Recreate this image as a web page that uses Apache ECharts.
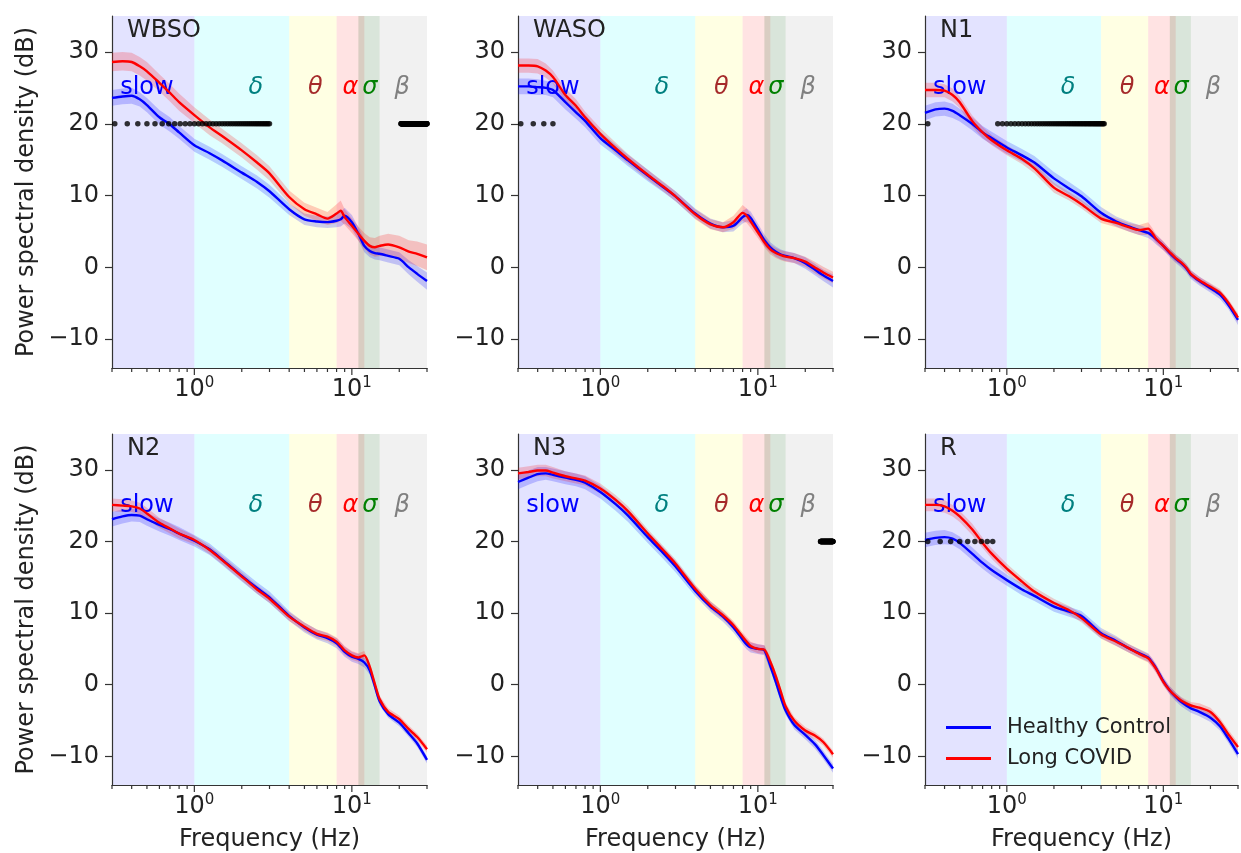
<!DOCTYPE html>
<html><head><meta charset="utf-8">
<script src="https://cdn.jsdelivr.net/npm/echarts@6/dist/echarts.min.js"></script>
<style>html,body{margin:0;padding:0;background:#fff}#c{width:1241px;height:853px}</style>
</head><body><div id="c"></div>
<script>
// ---------------- data ----------------
const FREQS = [0.3,0.35,0.4,0.45,0.5,0.6,0.7,0.8,1,1.25,1.5,2,2.5,3,4,5,6,7,8,8.5,9,10,11,12,13,14,15,17,20,23,26,30];
const STAGES = ['WBSO','WASO','N1','N2','N3','R'];
const GROUPS = ['Healthy Control','Long COVID'];

const wbsoHC = [23.6,23.8,23.9,23.4,22.6,20.9,19.9,18.8,17.0,15.9,14.9,13.2,11.9,10.6,8.1,6.7,6.4,6.3,6.5,6.7,7.2,6.3,4.7,3.0,2.3,2.0,1.9,1.6,1.2,0.0,-0.9,-1.9];
const wbsoLC = [28.6,28.7,28.6,28.0,27.3,25.7,24.3,23.0,21.2,19.5,18.3,16.3,14.6,13.1,9.8,8.1,7.4,6.8,7.5,7.9,7.0,5.8,4.7,3.7,3.0,2.8,3.0,3.2,2.8,2.2,1.9,1.4];
const wasoHC = [25.2,25.2,25.1,25.0,24.7,23.0,21.6,20.4,18.0,16.3,14.9,12.8,11.2,9.9,7.5,6.1,5.6,5.8,7.0,7.3,6.9,5.3,3.8,2.8,2.2,1.8,1.6,1.3,0.6,-0.3,-1.1,-1.9];
const wasoLC = [28.1,28.1,28.0,27.4,26.5,24.0,22.5,20.9,18.6,16.6,15.1,12.9,11.3,9.9,7.4,6.0,5.6,6.3,7.6,7.2,6.4,4.9,3.5,2.5,2.0,1.7,1.5,1.3,0.8,0.0,-0.7,-1.4];
const n1HC = [21.5,22.0,22.1,21.8,21.2,20.0,18.8,18.0,16.7,15.6,14.6,12.4,11.0,9.9,7.6,6.4,5.7,5.2,4.8,4.4,3.9,3.0,2.0,1.2,0.6,-0.1,-1.0,-1.9,-2.9,-3.8,-5.2,-7.3];
const n1LC = [24.7,24.7,24.6,24.0,23.0,20.4,18.8,17.7,16.3,15.1,13.8,11.1,9.9,8.8,6.8,6.2,5.6,5.2,5.4,4.8,4.0,3.0,2.1,1.3,0.7,0.0,-0.9,-1.8,-2.7,-3.5,-4.9,-7.0];
const n2HC = [23.1,23.5,23.7,23.6,23.1,22.3,21.7,21.1,20.1,18.9,17.5,15.2,13.5,12.2,9.6,8.0,7.0,6.5,5.8,5.2,4.6,3.9,3.6,3.1,2.0,-0.2,-2.3,-4.1,-5.3,-6.8,-8.2,-10.5];
const n2LC = [25.1,25.0,24.9,24.6,23.9,22.6,21.8,21.1,20.2,18.8,17.4,15.1,13.3,12.0,9.5,8.1,7.1,6.7,6.0,5.4,4.8,4.1,3.8,4.1,2.5,0.1,-2.0,-3.8,-4.8,-6.2,-7.3,-9.0];
const n3HC = [28.3,28.9,29.4,29.5,29.3,28.9,28.6,28.2,26.9,25.2,23.6,20.6,18.4,16.5,13.1,10.9,9.5,8.0,6.3,5.6,5.2,5.0,4.8,2.6,0.4,-1.8,-3.6,-5.6,-7.0,-8.3,-9.8,-11.7];
const n3LC = [29.5,29.7,29.9,29.9,29.6,29.1,28.8,28.5,27.4,25.8,24.2,21.1,18.8,16.9,13.4,11.1,9.7,8.3,6.7,6.0,5.4,5.0,4.9,3.2,1.2,-1.0,-3.0,-5.0,-6.4,-7.1,-8.0,-9.7];
const rHC = [20.2,20.5,20.6,20.4,19.8,18.3,17.0,16.0,14.6,13.3,12.4,10.9,10.2,9.6,7.2,6.1,5.1,4.4,3.8,3.1,2.3,0.5,-0.8,-1.7,-2.4,-2.9,-3.3,-3.8,-4.6,-5.8,-7.5,-9.7];
const rLC = [25.1,25.1,24.9,24.3,23.5,21.7,19.8,18.3,16.2,14.4,13.0,11.4,10.4,9.3,7.0,6.0,5.1,4.3,3.7,3.0,2.2,0.4,-0.8,-1.6,-2.2,-2.6,-2.9,-3.2,-3.8,-5.2,-6.9,-8.7];

// confidence half-widths (dB)
const wbsoHCci = [1.1,1.1,1.1,1.0,1.0,1.0,1.0,0.9,0.9,0.9,0.9,0.9,0.9,0.9,0.8,0.8,0.8,0.8,0.9,1.0,1.1,1.0,0.9,0.9,0.9,0.9,0.9,0.9,0.9,1.0,1.1,1.2];
const wbsoLCci = [1.3,1.3,1.3,1.3,1.3,1.2,1.2,1.2,1.1,1.1,1.0,1.0,1.0,1.0,0.9,0.9,0.9,0.9,1.3,1.4,1.1,1.0,1.0,1.1,1.2,1.3,1.4,1.5,1.6,1.6,1.7,1.8];
const wasoHCci = [1.1,1.1,1.1,1.0,1.0,1.0,0.9,0.9,0.9,0.8,0.8,0.8,0.7,0.7,0.7,0.7,0.7,0.8,0.9,0.9,0.9,0.8,0.8,0.7,0.7,0.7,0.7,0.7,0.8,0.8,0.8,0.9];
const wasoLCci = [1.0,1.0,1.0,1.0,0.9,0.9,0.9,0.8,0.8,0.8,0.7,0.7,0.7,0.7,0.7,0.7,0.7,0.9,1.1,1.0,0.9,0.8,0.7,0.7,0.7,0.7,0.7,0.7,0.7,0.8,0.8,0.8];
const n1HCci = [1.0,1.0,1.0,1.0,0.9,0.9,0.9,0.9,0.9,0.9,0.9,0.9,0.9,0.8,0.8,0.7,0.7,0.7,0.7,0.7,0.7,0.6,0.6,0.6,0.6,0.6,0.6,0.6,0.6,0.6,0.6,0.7];
const n1LCci = [1.0,1.0,0.9,0.9,0.8,0.8,0.8,0.7,0.7,0.7,0.7,0.7,0.6,0.6,0.6,0.6,0.6,0.7,0.9,0.7,0.6,0.6,0.5,0.5,0.5,0.5,0.5,0.5,0.5,0.5,0.5,0.6];
const n2HCci = [1.0,1.0,0.9,0.9,0.9,0.9,0.9,0.9,0.8,0.8,0.8,0.8,0.8,0.8,0.7,0.7,0.7,0.7,0.7,0.7,0.7,0.7,0.7,0.7,0.6,0.6,0.6,0.5,0.5,0.5,0.5,0.5];
const n2LCci = [0.9,0.9,0.8,0.8,0.8,0.7,0.7,0.7,0.6,0.6,0.6,0.6,0.6,0.6,0.6,0.6,0.6,0.6,0.6,0.6,0.6,0.6,0.6,0.6,0.5,0.5,0.5,0.5,0.5,0.5,0.5,0.5];
const n3HCci = [1.0,1.0,1.0,0.9,0.9,0.9,0.9,0.9,0.9,0.9,0.9,0.8,0.8,0.8,0.7,0.7,0.7,0.7,0.7,0.7,0.7,0.7,0.7,0.6,0.6,0.6,0.6,0.6,0.6,0.6,0.6,0.6];
const n3LCci = [0.8,0.8,0.8,0.8,0.8,0.7,0.7,0.7,0.7,0.7,0.7,0.6,0.6,0.6,0.6,0.6,0.6,0.6,0.6,0.6,0.6,0.6,0.6,0.6,0.5,0.5,0.5,0.5,0.5,0.5,0.5,0.5];
const rHCci = [1.0,1.0,1.0,0.9,0.9,0.9,0.8,0.8,0.8,0.8,0.7,0.7,0.7,0.7,0.7,0.7,0.6,0.6,0.6,0.6,0.6,0.6,0.6,0.6,0.6,0.6,0.6,0.6,0.6,0.6,0.6,0.6];
const rLCci = [0.9,0.9,0.9,0.8,0.8,0.8,0.7,0.7,0.7,0.6,0.6,0.6,0.6,0.6,0.6,0.6,0.6,0.6,0.6,0.6,0.6,0.5,0.5,0.5,0.5,0.5,0.5,0.6,0.6,0.6,0.6,0.6];

// significant frequency ranges (Hz), marked at the frequency-bin resolution
const FREQ_RES = 0.0625;
const SIG_LEVEL = 20;
const wbsoSig = [[0.3125, 3.0], [20.5, 30]];
const wasoSig = [[0.3125, 0.5]];
const n1Sig = [[0.3125, 0.3125], [0.875, 4.1875]];
const n2Sig = [];
const n3Sig = [[25.0, 30]];
const rSig = [[0.3125, 0.8125]];

// frequency bands
const BAND_NAMES = ['slow','δ','θ','α','σ','β'];
const BAND_LO = [0.3, 1, 4, 8, 11, 15];
const BAND_HI = [1, 4, 8, 12, 15, 30];
const BAND_LABEL_F = [0.5, 2.46, 5.86, 9.8, 13, 20.9];
const BAND_LABEL_DB = 25;

// axes
const Y_TICKS = [-10, 0, 10, 20, 30];
const X_MAJOR = [1, 10];
const X_MINOR = [0.3,0.4,0.5,0.6,0.7,0.8,0.9,2,3,4,5,6,7,8,9,20,30];

// ---------------- style / layout ----------------
const FONT = 'DejaVu Sans';
const TEXT = '#222';
const AXIS = '#333';
const Y_MIN = -14, Y_MAX = 35, X_MIN = 0.3, X_MAX = 30;
const COL_LEFT = [112, 518, 925], ROW_TOP = [16, 434], ROW_H = [352, 351], GRID_W = 315;
const BAND_FILL = ['rgba(0,0,255,0.11)','rgba(0,255,255,0.12)','rgba(255,255,0,0.11)','rgba(255,0,0,0.11)','rgba(0,80,10,0.15)','rgba(128,128,128,0.11)'];
const BAND_TEXT = ['#0000ff','#008080','#a52a2a','#ff0000','#008000','#808080'];
const LINE_COL = ['#0000ff', '#ff0000'];
const CI_FILL = ['rgba(0,0,255,0.2)', 'rgba(255,0,0,0.2)'];
const SMOOTH = 0.25;

const panelMeans = [[wbsoHC, wbsoLC],[wasoHC, wasoLC],[n1HC, n1LC],[n2HC, n2LC],[n3HC, n3LC],[rHC, rLC]];
const panelCI = [[wbsoHCci, wbsoLCci],[wasoHCci, wasoLCci],[n1HCci, n1LCci],[n2HCci, n2LCci],[n3HCci, n3LCci],[rHCci, rLCci]];
const panelSig = [wbsoSig, wasoSig, n1Sig, n2Sig, n3Sig, rSig];

function sigBins(ranges) {
  const out = [];
  ranges.forEach(([a, b]) => {
    for (let k = Math.round(a / FREQ_RES); k <= Math.round(b / FREQ_RES); k++) out.push([k * FREQ_RES, SIG_LEVEL]);
  });
  return out;
}

function fmtX(v) {
  const e = Math.log10(v), k = Math.round(e);
  if (Math.abs(e - k) < 1e-6 && X_MAJOR.some(m => Math.abs(m - Math.pow(10, k)) < 1e-9)) return '10{s|' + k + '}';
  return '';
}

const grids = [], xAxes = [], yAxes = [], series = [], titles = [];
const xTickData = X_MAJOR.map(f => [f, Y_MIN, 1]).concat(X_MINOR.map(f => [f, Y_MIN, 0]));

STAGES.forEach((stage, i) => {
  const c = i % 3, r = Math.floor(i / 3);
  grids.push({ left: COL_LEFT[c], top: ROW_TOP[r], width: GRID_W, height: ROW_H[r], containLabel: false });
  titles.push({ text: stage, left: COL_LEFT[c] + 15, top: ROW_TOP[r] + 3, padding: 0,
    textStyle: { fontSize: 24, fontWeight: 'normal', color: TEXT, fontFamily: FONT } });
  xAxes.push({
    gridIndex: i, type: 'log', logBase: 10, min: X_MIN, max: X_MAX,
    name: r === 1 ? 'Frequency (Hz)' : '', nameLocation: 'middle', nameGap: 43,
    nameTextStyle: { fontSize: 24, color: TEXT, fontFamily: FONT },
    axisLine: { show: true, onZero: false, lineStyle: { color: AXIS, width: 1.2 } },
    axisTick: { show: false }, minorTick: { show: false }, splitLine: { show: false },
    axisLabel: { margin: 8, formatter: fmtX, fontSize: 24, color: TEXT, fontFamily: FONT,
      rich: { s: { fontSize: 15, padding: [0, 0, 13, 0], color: TEXT, fontFamily: FONT } } }
  });
  yAxes.push({
    gridIndex: i, type: 'value', min: Y_MIN, max: Y_MAX,
    name: c === 0 ? 'Power spectral density (dB)' : '', nameLocation: 'middle', nameGap: 73,
    nameTextStyle: { fontSize: 24, color: TEXT, fontFamily: FONT },
    axisLine: { show: true, lineStyle: { color: AXIS, width: 1.2 } },
    axisTick: { show: true, length: 7, customValues: Y_TICKS, lineStyle: { color: AXIS, width: 1.2 } },
    axisLabel: { customValues: Y_TICKS, margin: 13, fontSize: 24, color: TEXT, fontFamily: FONT,
      formatter: v => (v < 0 ? '\u2212' + (-v) : String(v)) },
    splitLine: { show: false }
  });

  // band shading (behind everything)
  series.push({
    type: 'line', xAxisIndex: i, yAxisIndex: i, silent: true, z: 0, data: [],
    markArea: { silent: true, z: 0,
      data: BAND_LO.map((lo, k) => [{ xAxis: lo, itemStyle: { color: BAND_FILL[k], borderWidth: 0, opacity: 1 } }, { xAxis: BAND_HI[k] }]) }
  });
  // band labels
  series.push({
    type: 'scatter', xAxisIndex: i, yAxisIndex: i, silent: true, z: 2,
    symbolSize: 1, itemStyle: { color: 'rgba(0,0,0,0)' },
    label: { show: true, position: 'inside', fontSize: 24, fontFamily: FONT, opacity: 1, textBorderWidth: 0 },
    data: BAND_NAMES.map((t, k) => ({ value: [BAND_LABEL_F[k], BAND_LABEL_DB],
      label: { show: true, formatter: t, color: BAND_TEXT[k], fontStyle: k > 0 ? 'italic' : 'normal' } }))
  });

  // confidence bands (polygon between lower and upper bounds, via the axes' scales)
  [0, 1].forEach(g => {
    const m = panelMeans[i][g], ci = panelCI[i][g];
    const rows = FREQS.map((f, k) => [f, m[k] - ci[k], m[k] + ci[k]]);
    series.push({ type: 'custom', name: 'ci', xAxisIndex: i, yAxisIndex: i, silent: true, z: 2, clip: true,
      encode: { x: 0, y: [1, 2] }, data: rows,
      renderItem: (p, api) => {
        if (p.dataIndex !== 0) return null;
        const up = rows.map(d => api.coord([d[0], d[2]]));
        const lo = rows.map(d => api.coord([d[0], d[1]])).reverse();
        return { type: 'polygon', shape: { points: up.concat(lo) }, style: { fill: CI_FILL[g] } };
      } });
  });
  // mean lines
  [0, 1].forEach(g => {
    const m = panelMeans[i][g];
    series.push({ type: 'line', name: GROUPS[g], xAxisIndex: i, yAxisIndex: i, symbol: 'none', smooth: SMOOTH,
      silent: true, z: 3, color: LINE_COL[g], itemStyle: { color: LINE_COL[g] },
      lineStyle: { color: LINE_COL[g], width: 2.4 },
      data: FREQS.map((f, k) => [f, m[k]]) });
  });
  // significance markers
  series.push({ type: 'scatter', xAxisIndex: i, yAxisIndex: i, silent: true, z: 4,
    symbolSize: 5.5, itemStyle: { color: '#000' }, data: sigBins(panelSig[i]) });
  // x ticks (major + minor, log-positioned)
  series.push({ type: 'custom', xAxisIndex: i, yAxisIndex: i, silent: true, z: 5, clip: false,
    encode: { x: 0, y: 1 }, data: xTickData,
    renderItem: (p, api) => {
      const pt = api.coord([api.value(0), api.value(1)]);
      const len = api.value(2) ? 7 : 4;
      return { type: 'line', shape: { x1: pt[0], y1: pt[1], x2: pt[0], y2: pt[1] + len },
        style: { stroke: AXIS, lineWidth: 1.2 } };
    } });
});

const chart = echarts.init(document.getElementById('c'), null, { renderer: 'canvas' });
chart.setOption({
  animation: false,
  backgroundColor: '#fff',
  title: titles,
  grid: grids, xAxis: xAxes, yAxis: yAxes,
  legend: { data: GROUPS, orient: 'vertical', left: 941, top: 712, icon: 'rect', itemWidth: 45, itemHeight: 3,
    itemGap: 10, selectedMode: false,
    textStyle: { fontSize: 21, color: TEXT, fontFamily: FONT, padding: [0, 0, 0, 11] } },
  series: series
});
</script></body></html>
